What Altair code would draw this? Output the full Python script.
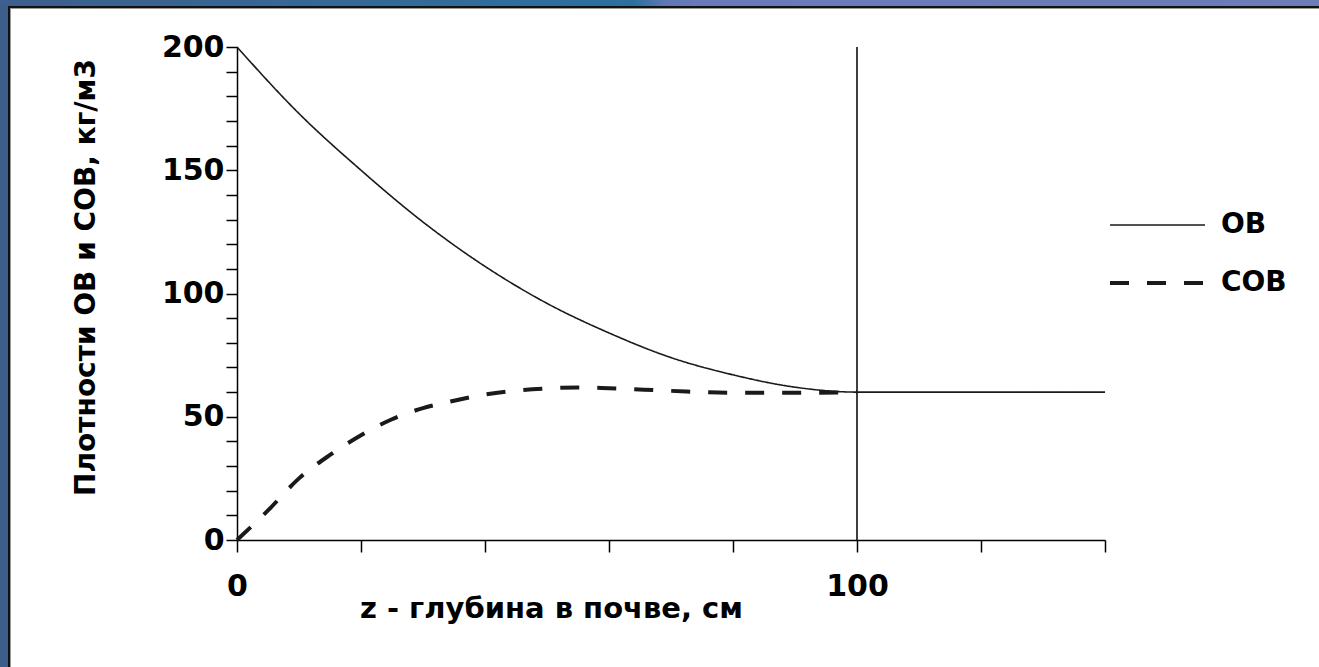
import altair as alt
import pandas as pd

# Depth in soil, cm
depth = [0, 10, 20, 30, 40, 50, 60, 70, 80, 90, 100, 140]
# Organic matter density (OB), kg/m3
ob = [200, 173, 150, 129, 111, 96, 84, 74, 67, 62, 60, 60]

# Soil organic matter density (COB), kg/m3
cob_depth = [0, 5, 10, 15, 20, 25, 30, 35, 40, 45, 50, 55, 60, 70, 80, 90, 100]
cob = [0, 12, 25, 34.5, 42.5, 49, 53.5, 56.5, 59, 60.6, 61.5, 61.9, 61.6, 60.5, 59.7, 59.7, 60]

series_names = ["ОВ", "СОВ"]
boundary = [100]

x_ticks = list(range(0, 141, 20))
y_ticks = list(range(0, 201, 10))

rows = [{"z": z, "v": v, "s": series_names[0]} for z, v in zip(depth, ob)]
rows += [{"z": z, "v": v, "s": series_names[1]} for z, v in zip(cob_depth, cob)]
df = pd.DataFrame(rows)
rule_df = pd.DataFrame({"z": boundary, "v": [0], "hi": [200]})

FONT = "DejaVu Sans"
W, H = 868, 493
PAD_L, PAD_T = 237, 47
CANVAS_W, CANVAS_H = 1319, 667

x_scale = alt.Scale(domain=[0, 140], nice=False, zero=False)
y_scale = alt.Scale(domain=[0, 200], nice=False)

x_axis = alt.Axis(
    values=x_ticks,
    labelExpr="datum.value % 100 === 0 ? datum.label : ''",
    labelOverlap=False, labelFlush=False, labelBound=False,
    title="z - глубина в почве, см",
    titleX=314, titleY=68, titleAnchor="middle", titleBaseline="middle",
    titleFontSize=29, titleFontWeight="bold", titleFont=FONT,
    labelFontSize=30, labelFontWeight="bold", labelFont=FONT,
    labelPadding=19, tickSize=12, grid=False,
    domainColor="black", tickColor="black", domainWidth=1.5, tickWidth=1.5,
    labelColor="black", titleColor="black",
)
y_axis = alt.Axis(
    values=y_ticks,
    labelExpr="datum.value % 50 === 0 ? datum.label : ''",
    labelOverlap=False, labelFlush=False, labelBound=False,
    title="Плотности  ОВ и СОВ, кг/м3",
    titleX=-151, titleY=230, titleAnchor="middle", titleBaseline="middle",
    titleFontSize=28, titleFontWeight="bold", titleFont=FONT,
    labelFontSize=30, labelFontWeight="bold", labelFont=FONT,
    labelPadding=2, tickSize=11, grid=False,
    domainColor="black", tickColor="black", domainWidth=1.5, tickWidth=1.5,
    labelColor="black", titleColor="black",
)

# slide frame: blue bands with a dark edge along the top and left
one = pd.DataFrame({"k": [0]})
top_band = alt.Chart(one).mark_rect(
    color=alt.Gradient(
        gradient="linear", x1=0, x2=1, y1=0, y2=0,
        stops=[
            alt.GradientStop(offset=0, color="#3d5f8d"),
            alt.GradientStop(offset=0.3, color="#336a98"),
            alt.GradientStop(offset=0.48, color="#2b6fa0"),
            alt.GradientStop(offset=0.505, color="#5f78b4"),
            alt.GradientStop(offset=0.53, color="#6a7ab8"),
            alt.GradientStop(offset=1, color="#6b7cb9"),
        ],
    )
).encode(x=alt.value(-PAD_L), x2=alt.value(CANVAS_W - PAD_L), y=alt.value(-PAD_T), y2=alt.value(-PAD_T + 6))
left_band = alt.Chart(one).mark_rect(color="#3b5e8a").encode(
    x=alt.value(-PAD_L), x2=alt.value(-PAD_L + 8), y=alt.value(-PAD_T + 6), y2=alt.value(CANVAS_H - PAD_T)
)
top_edge = alt.Chart(one).mark_rect(color="#111111").encode(
    x=alt.value(-PAD_L + 8), x2=alt.value(CANVAS_W - PAD_L), y=alt.value(-PAD_T + 6), y2=alt.value(-PAD_T + 8)
)
left_edge = alt.Chart(one).mark_rect(color="#111111").encode(
    x=alt.value(-PAD_L + 8), x2=alt.value(-PAD_L + 10), y=alt.value(-PAD_T + 6), y2=alt.value(CANVAS_H - PAD_T)
)
top_grey = alt.Chart(one).mark_rect(color="#9a9a9a").encode(
    x=alt.value(-PAD_L + 10), x2=alt.value(CANVAS_W - PAD_L), y=alt.value(-PAD_T + 8), y2=alt.value(-PAD_T + 9)
)
left_grey = alt.Chart(one).mark_rect(color="#9a9a9a").encode(
    x=alt.value(-PAD_L + 10), x2=alt.value(-PAD_L + 11), y=alt.value(-PAD_T + 8), y2=alt.value(CANVAS_H - PAD_T)
)

legend_cfg = dict(
    title=None, orient="none", legendX=871, legendY=163,
    symbolType="stroke", symbolSize=9025, clipHeight=30, rowPadding=28,
    labelFontSize=28, labelFontWeight="bold", labelFont=FONT, labelColor="black",
    labelOffset=14, symbolStrokeColor="#1a1a1a", padding=0,
)

lines = alt.Chart(df).mark_line(color="#1a1a1a", interpolate="monotone", strokeCap="butt").encode(
    x=alt.X("z:Q", scale=x_scale, axis=x_axis),
    y=alt.Y("v:Q", scale=y_scale, axis=y_axis),
    strokeDash=alt.StrokeDash(
        "s:N",
        scale=alt.Scale(domain=series_names, range=[[1, 0], [19, 18]]),
        legend=alt.Legend(**legend_cfg),
    ),
    strokeWidth=alt.StrokeWidth(
        "s:N",
        scale=alt.Scale(domain=series_names, range=[1.6, 4]),
        legend=alt.Legend(**legend_cfg),
    ),
    order="z:Q",
)

# vertical boundary at the bottom of the soil profile
rule = alt.Chart(rule_df).mark_rule(color="black", strokeWidth=1.5).encode(
    x=alt.X("z:Q", scale=x_scale, axis=x_axis),
    y=alt.Y("v:Q", scale=y_scale, axis=y_axis),
    y2="hi:Q",
)

chart = alt.layer(
    top_band, left_band, top_edge, left_edge, top_grey, left_grey, rule, lines
).properties(
    width=W, height=H,
    autosize=alt.AutoSizeParams(type="none"),
    padding={"left": PAD_L, "top": PAD_T, "right": CANVAS_W - PAD_L - W, "bottom": CANVAS_H - PAD_T - H},
    background="white",
).configure_view(stroke=None)

chart.save("out.html", embed_options={"renderer": "svg", "actions": False})
